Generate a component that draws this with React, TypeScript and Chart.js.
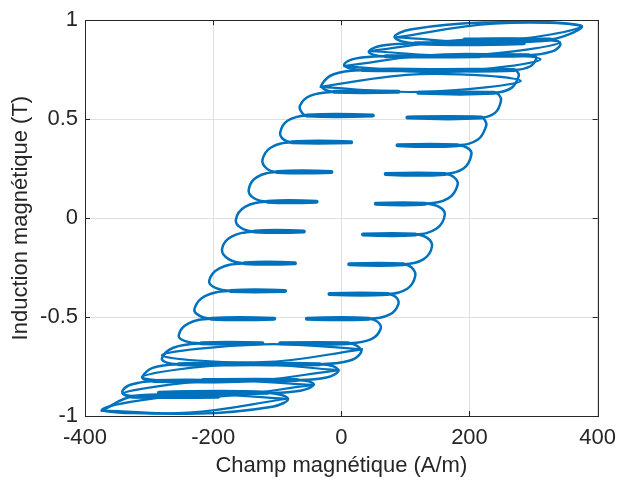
import React, { useEffect, useRef } from "react";
import { Chart, registerables } from "chart.js";

Chart.register(...registerables);

// Axis ticks
const xTickValues = [-400, -200, 0, 200, 400];
const yTickValues = [-1, -0.5, 0, 0.5, 1];

// Saturation turns (H in A/m, B in T)
const bottomTurnH = [-373.8, -223.1, -107.7, -83.1];
const bottomTurnB = [-0.973, -0.988, -0.953, -0.913];
const topTurnH = [373.8, 223.1, 107.7, 83.1];
const topTurnB = [0.973, 0.988, 0.953, 0.913];

// Ascending branch (right side): plateau levels and ends
const riseLevelB = [-0.883, -0.818, -0.738, -0.633, -0.508, -0.383, -0.233, -0.083, 0.073, 0.223, 0.368, 0.508, 0.633, 0.748, 0.823, 0.903];
const riseTipH = [-284.6, -215.4, -136.9, -95.4, -53.8, -18.5, 12.3, 33.8, 53.8, 69.2, 87.7, 103.1, 120, 135.4, 176.9, 192.3];
const riseBaseH = [-115.4, -69.2, -33.8, 10.8, 43.1, 72.3, 96.9, 115.4, 130.8, 161.5, 181.5, 218.5, 238.5, 269.2, 292.3, 326.2];
// Ascending branch: minor-loop arcs between levels (lower arc point, rightmost point, upper arc point)
const riseArcLowH = [-64.0, -23.4, 12.0, 46.8, 75.8, 102.9, 128.6, 148.2, 166.8, 191.1, 213.2, 240.3, 265.7, 294.3, 327.7];
const riseArcLowB = [-0.872, -0.805, -0.721, -0.612, -0.486, -0.357, -0.207, -0.054, 0.1, 0.252, 0.397, 0.533, 0.658, 0.766, 0.841];
const riseBulgeH = [-43.1, -4.6, 30.8, 61.5, 89.2, 115.4, 141.5, 161.5, 181.5, 203.1, 226.2, 249.2, 276.9, 304.6, 341.5];
const riseBulgeB = [-0.843, -0.773, -0.678, -0.558, -0.433, -0.293, -0.143, 0.018, 0.168, 0.323, 0.468, 0.593, 0.718, 0.808, 0.873];
const riseArcHighH = [-50.6, -13.1, 24.9, 56.2, 84.3, 110.0, 134.0, 152.6, 175.7, 196.8, 223.8, 246.2, 274.6, 301.1, 336.9];
const riseArcHighB = [-0.825, -0.748, -0.646, -0.523, -0.397, -0.25, -0.1, 0.057, 0.207, 0.355, 0.496, 0.622, 0.74, 0.819, 0.896];

// Descending branch (left side): plateau levels and ends
const fallLevelB = [0.883, 0.818, 0.748, 0.638, 0.518, 0.383, 0.233, 0.083, -0.068, -0.228, -0.368, -0.508, -0.633, -0.738, -0.823, -0.903];
const fallTipH = [284.6, 215.4, 136.9, 89.2, 49.2, 15.4, -15.4, -38.5, -58.5, -72.3, -87.7, -104.6, -123.1, -136.9, -176.9, -192.3];
const fallBaseH = [115.4, 69.2, 33.8, -10.8, -53.8, -76.9, -100, -115.4, -135.4, -150.8, -172.3, -203.1, -218.5, -253.8, -292.3, -326.2];
// Descending branch: minor-loop arcs (upper arc point, leftmost point, lower arc point)
const fallArcHighH = [64.0, 23.4, -12.0, -48.9, -83.4, -109.7, -131.7, -150.3, -171.4, -190.2, -212.8, -239.1, -262.2, -294.3, -327.7];
const fallArcHighB = [0.872, 0.807, 0.727, 0.618, 0.493, 0.357, 0.207, 0.057, -0.094, -0.254, -0.394, -0.533, -0.655, -0.757, -0.841];
const fallBulgeH = [43.1, 4.6, -30.8, -64.6, -95.4, -123.1, -144.6, -164.6, -186.2, -206.2, -229.2, -253.8, -280, -310.8, -341.5];
const fallBulgeB = [0.843, 0.778, 0.673, 0.568, 0.433, 0.293, 0.143, -0.008, -0.158, -0.318, -0.458, -0.593, -0.708, -0.803, -0.873];
const fallArcLowH = [50.6, 13.1, -24.9, -61.5, -90.0, -116.3, -136.2, -156.2, -175.8, -196.3, -221.7, -243.5, -272.5, -305.4, -336.9];
const fallArcLowB = [0.825, 0.757, 0.648, 0.533, 0.397, 0.25, 0.1, -0.05, -0.207, -0.353, -0.493, -0.622, -0.73, -0.817, -0.896];

// Extra elongated loops in the two saturation zones (4 near +1 T, 4 near -1 T)
const satStartH = [-33.8, 3.1, 43.1, 84.6, 33.8, -3.1, -43.1, -84.6];
const satStartB = [0.663, 0.768, 0.843, 0.913, -0.663, -0.768, -0.843, -0.913];
const satMid1H = [123.1, 161.5, 200, 238.5, -123.1, -161.5, -200, -238.5];
const satMid1B = [0.728, 0.828, 0.903, 0.983, -0.728, -0.828, -0.903, -0.983];
const satFarH = [280, 310.8, 341.5, 373.8, -280, -310.8, -341.5, -373.8];
const satFarB = [0.693, 0.803, 0.888, 0.968, -0.693, -0.803, -0.888, -0.968];
const satMid2H = [123.1, 161.5, 200, 238.5, -123.1, -161.5, -200, -238.5];
const satMid2B = [0.638, 0.738, 0.823, 0.893, -0.638, -0.738, -0.823, -0.893];

const BLUE = "#0072BD";
const INK = "#262626";
const FONT = "'Liberation Sans', Arial, Helvetica, sans-serif";

function buildPath() {
  const pts: { x: number; y: number }[] = [];
  const thick: boolean[] = [];
  const push = (x: number, y: number, t = false) => {
    pts.push({ x, y });
    thick.push(t);
  };
  const branch = (
    levelB: number[], baseH: number[], tipH: number[],
    aH: number[], aB: number[], mH: number[], mB: number[], bH: number[], bB: number[]
  ) => {
    for (let k = 0; k < levelB.length; k++) {
      push(baseH[k], levelB[k], true);
      push(tipH[k], levelB[k], true);
      push(baseH[k], levelB[k]);
      if (k < mH.length) {
        push(aH[k], aB[k]);
        push(mH[k], mB[k]);
        push(bH[k], bB[k]);
      }
    }
  };
  bottomTurnH.forEach((h, i) => push(h, bottomTurnB[i]));
  branch(riseLevelB, riseBaseH, riseTipH, riseArcLowH, riseArcLowB, riseBulgeH, riseBulgeB, riseArcHighH, riseArcHighB);
  topTurnH.forEach((h, i) => push(h, topTurnB[i]));
  branch(fallLevelB, fallBaseH, fallTipH, fallArcHighH, fallArcHighB, fallBulgeH, fallBulgeB, fallArcLowH, fallArcLowB);
  push(bottomTurnH[0], bottomTurnB[0]);
  return { pts, thick };
}

const boxPlugin = {
  id: "matlabBox",
  afterDraw(chart: any) {
    const { ctx, chartArea } = chart;
    const { left, right, top, bottom } = chartArea;
    const xs = chart.scales.x;
    const ys = chart.scales.y;
    ctx.save();
    ctx.strokeStyle = INK;
    ctx.lineWidth = 1;
    ctx.beginPath();
    const L = 5;
    xTickValues.forEach((v) => {
      const px = Math.round(xs.getPixelForValue(v)) + 0.5;
      ctx.moveTo(px, bottom);
      ctx.lineTo(px, bottom - L);
      ctx.moveTo(px, top);
      ctx.lineTo(px, top + L);
    });
    yTickValues.forEach((v) => {
      const py = Math.round(ys.getPixelForValue(v)) + 0.5;
      ctx.moveTo(left, py);
      ctx.lineTo(left + L, py);
      ctx.moveTo(right, py);
      ctx.lineTo(right - L, py);
    });
    ctx.stroke();
    ctx.strokeRect(Math.round(left) + 0.5, Math.round(top) + 0.5, Math.round(right - left), Math.round(bottom - top));
    ctx.restore();
  },
};

export default function App() {
  const ref = useRef<HTMLCanvasElement>(null);
  useEffect(() => {
    document.body.style.margin = "0";
    const { pts, thick } = buildPath();
    const satSets = satStartH.map((_, i) => ({
      data: [
        { x: satStartH[i], y: satStartB[i] },
        { x: satMid1H[i], y: satMid1B[i] },
        { x: satFarH[i], y: satFarB[i] },
        { x: satMid2H[i], y: satMid2B[i] },
        { x: satStartH[i], y: satStartB[i] },
      ],
      showLine: true,
      borderColor: BLUE,
      borderWidth: 2.2,
      pointRadius: 0,
      tension: 0.4,
    }));
    const chart = new Chart(ref.current as HTMLCanvasElement, {
      type: "scatter",
      data: {
        datasets: [
          {
            data: pts,
            showLine: true,
            borderColor: BLUE,
            backgroundColor: BLUE,
            borderWidth: 2.5,
            pointRadius: 0,
            tension: 0.4,
            borderCapStyle: "round",
            borderJoinStyle: "round",
            segment: {
              borderWidth: (c: any) => (thick[c.p0DataIndex] ? 4 : 2.5),
            },
          } as any,
          ...(satSets as any[]),
        ],
      },
      options: {
        responsive: false,
        animation: false,
        layout: { padding: { top: 17, right: 20, left: 0, bottom: 0 } },
        plugins: { legend: { display: false }, tooltip: { enabled: false } },
        scales: {
          x: {
            type: "linear",
            min: -400,
            max: 400,
            afterBuildTicks: (s: any) => {
              s.ticks = xTickValues.map((v) => ({ value: v }));
            },
            afterFit: (s: any) => {
              s.height = 67;
            },
            grid: { color: "#e0e0e0", drawTicks: false, lineWidth: 1 },
            border: { display: false },
            ticks: {
              color: INK,
              font: { family: FONT, size: 22 },
              padding: 9,
              maxRotation: 0,
              callback: (v: any) => String(v),
            },
            title: {
              display: true,
              text: "Champ magnétique (A/m)",
              color: INK,
              font: { family: FONT, size: 22 },
              padding: { top: 0, bottom: 4 },
            },
          },
          y: {
            type: "linear",
            min: -1,
            max: 1,
            afterBuildTicks: (s: any) => {
              s.ticks = yTickValues.map((v) => ({ value: v }));
            },
            afterFit: (s: any) => {
              s.width = 85;
            },
            grid: { color: "#e0e0e0", drawTicks: false, lineWidth: 1 },
            border: { display: false },
            ticks: {
              color: INK,
              font: { family: FONT, size: 22 },
              padding: 7,
              callback: (v: any) => String(v),
            },
            title: {
              display: true,
              text: "Induction magnétique (T)",
              color: INK,
              font: { family: FONT, size: 22 },
              padding: { top: 8, bottom: 0 },
            },
          },
        },
      },
      plugins: [boxPlugin],
    });
    return () => chart.destroy();
  }, []);
  return (
    <div style={{ position: "fixed", left: 0, top: 0, width: 625, height: 483, background: "#fff" }}>
      <canvas ref={ref} width={625} height={483} style={{ display: "block" }} />
    </div>
  );
}
